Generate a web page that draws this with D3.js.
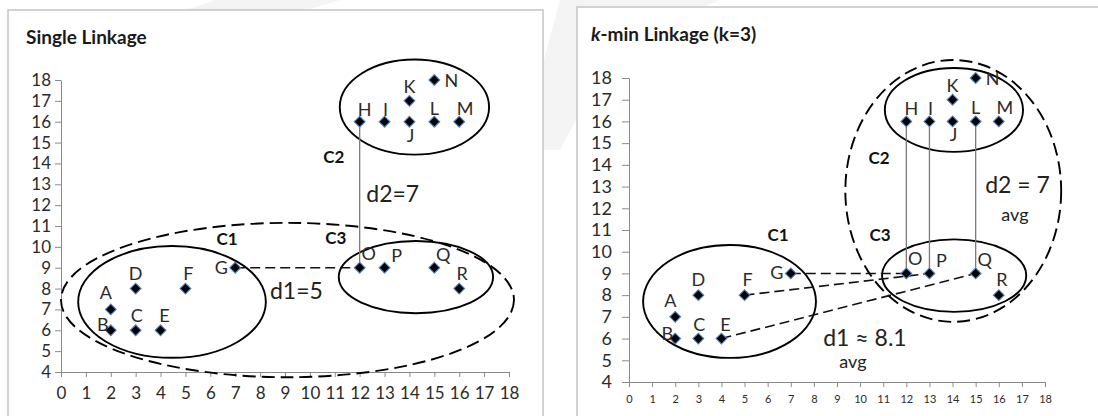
<!DOCTYPE html>
<html>
<head>
<meta charset="utf-8">
<script src="https://cdn.jsdelivr.net/npm/d3@7"></script>
<style>
  body { margin: 0; background: #fff; }
  text { font-family: Lato, "Open Sans", sans-serif; }
</style>
</head>
<body>
<div id="chart"></div>
<script>
// points (same in both panels)
var letters = ["A","B","C","D","E","F","G","H","I","J","K","L","M","N","O","P","Q","R"];
var xs = [2, 2, 3, 3, 4, 5, 7, 12, 13, 14, 14, 15, 16, 15, 12, 13, 15, 16];
var ys = [7, 6, 6, 8, 6, 8, 9, 16, 16, 16, 17, 16, 16, 18, 9, 9, 9, 8];

// axis ticks
var xTicks = [0,1,2,3,4,5,6,7,8,9,10,11,12,13,14,15,16,17,18];
var yTicks = [4,5,6,7,8,9,10,11,12,13,14,15,16,17,18];

// cluster ellipses, in data units
var leftEllipses = [
  { cx: 4.46, cy: 7.36, rx: 3.77, ry: 2.68, kind: "solid" },
  { cx: 14.2, cy: 16.7, rx: 3.0, ry: 2.28, kind: "solid" },
  { cx: 14.26, cy: 8.55, rx: 3.1, ry: 1.73, kind: "solid" },
  { cx: 9.1, cy: 7.45, rx: 9.1, ry: 3.7, kind: "dashed" }
];
var rightEllipses = [
  { cx: 4.35, cy: 7.71, rx: 3.74, ry: 2.6, kind: "solid" },
  { cx: 14.06, cy: 16.53, rx: 2.99, ry: 1.93, kind: "solid" },
  { cx: 14.07, cy: 8.9, rx: 3.12, ry: 1.67, kind: "solid" },
  { cx: 14.03, cy: 12.8, rx: 4.67, ry: 6.03, kind: "dashed" }
];

// links between points
var leftLinks = [["H", "O", "solid"], ["G", "O", "dashed"]];
var rightLinks = [["H", "O", "solid"], ["I", "P", "solid"], ["L", "Q", "solid"],
                  ["G", "O", "dashed"], ["F", "P", "dashed"], ["E", "Q", "dashed"]];

// annotation texts, in data units
var leftNotes = [
  { text: "C1", x: 6.67, y: 10.42, kind: "bold" },
  { text: "C2", x: 10.96, y: 14.31, kind: "bold" },
  { text: "C3", x: 11.04, y: 10.47, kind: "bold" },
  { text: "d2=7", x: 13.33, y: 12.58, kind: "big" },
  { text: "d1=5", x: 9.46, y: 7.93, kind: "big" }
];
var rightNotes = [
  { text: "C1", x: 6.45, y: 10.77, kind: "bold" },
  { text: "C2", x: 10.82, y: 14.36, kind: "bold" },
  { text: "C3", x: 10.86, y: 10.77, kind: "bold" },
  { text: "d2 = 7", x: 16.81, y: 13.1, kind: "big" },
  { text: "avg", x: 16.7, y: 11.75, kind: "sub" },
  { text: "d1 \u2248 8.1", x: 10.21, y: 6.08, kind: "big" },
  { text: "avg", x: 9.69, y: 4.98, kind: "sub" }
];

// label nudges in px (dx, dy) for each letter
var labelNudge = {
  A: [-5, -17], B: [-8, -6], C: [1, -15], D: [0, -16], E: [4, -15], F: [3, -16],
  G: [-14, -1], H: [5, -13], I: [1, -13], J: [1, 13], K: [0, -15], L: [0, -14],
  M: [6, -14], N: [17, 0], O: [9, -15], P: [12, -13], Q: [9, -14], R: [3, -16]
};

var svg = d3.select("#chart").append("svg")
    .attr("width", 1098)
    .attr("height", 416);

svg.append("rect").attr("width", 1098).attr("height", 416).attr("fill", "#fff");

// faint watermark bands
var bands = [
  [[215, 0], [340, 0], [300, 12], [180, 12]],
  [[560, 0], [640, 0], [560, 150], [520, 150]],
  [[640, 0], [720, 0], [700, 8], [620, 8]]
];
svg.selectAll(".band")
    .data(bands)
    .enter()
    .append("polygon")
    .attr("points", function (d) { return d.join(" "); })
    .attr("fill", "#f4f4f4");

var points = letters.map(function (l, i) { return { name: l, x: xs[i], y: ys[i] }; });
function pt(name) { return points[letters.indexOf(name)]; }

function drawPanel(cfg, ellipses, links, notes) {
    // panel frame
    svg.append("rect")
        .attr("x", cfg.frame[0]).attr("y", cfg.frame[1])
        .attr("width", cfg.frame[2]).attr("height", cfg.frame[3])
        .attr("fill", "#fff")
        .attr("stroke", "#c4c4c4")
        .attr("stroke-width", 1.5);

    var g = svg.append("g");

    var x = d3.scaleLinear().domain([0, 18]).range([cfg.x0, cfg.x1]);
    var y = d3.scaleLinear().domain([4, 18]).range([cfg.y0, cfg.y1]);

    // title
    var title = g.append("text")
        .attr("x", cfg.titleX)
        .attr("y", cfg.titleY)
        .style("font-size", "19px")
        .style("font-weight", "bold")
        .attr("fill", "#1a1a1a");
    cfg.title.forEach(function (t) {
        title.append("tspan").style("font-style", t.italic ? "italic" : "normal").text(t.text);
    });

    // axes
    var yAxis = g.append("g")
        .attr("transform", "translate(" + cfg.x0 + ",0)")
        .call(d3.axisLeft(y).tickValues(yTicks).tickSize(cfg.yTick).tickSizeOuter(0).tickPadding(cfg.yPad));
    var xAxis = g.append("g")
        .attr("transform", "translate(0," + cfg.y0 + ")")
        .call(d3.axisBottom(x).tickValues(xTicks).tickSize(5).tickSizeOuter(0).tickPadding(cfg.xPad));

    [xAxis, yAxis].forEach(function (a) {
        a.selectAll("path, line").attr("stroke", "#8a8a8a");
        a.selectAll("text").attr("fill", "#2b2b2b").style("font-family", "Lato, sans-serif");
    });
    yAxis.selectAll("text").style("font-size", cfg.yFont + "px");
    xAxis.selectAll("text").style("font-size", cfg.xFont + "px");

    // ellipses
    g.selectAll(".ell")
        .data(ellipses)
        .enter()
        .append("ellipse")
        .attr("cx", function (d) { return x(d.cx); })
        .attr("cy", function (d) { return y(d.cy); })
        .attr("rx", function (d) { return x(d.rx) - x(0); })
        .attr("ry", function (d) { return y(4) - y(4 + d.ry); })
        .attr("fill", "none")
        .attr("stroke", "#000")
        .attr("stroke-width", 1.9)
        .attr("stroke-dasharray", function (d) { return d.kind === "dashed" ? "13,6" : null; });

    // links
    g.selectAll(".link")
        .data(links)
        .enter()
        .append("line")
        .attr("x1", function (d) { return x(pt(d[0]).x); })
        .attr("y1", function (d) { return y(pt(d[0]).y); })
        .attr("x2", function (d) { return x(pt(d[1]).x); })
        .attr("y2", function (d) { return y(pt(d[1]).y); })
        .attr("stroke", function (d) { return d[2] === "dashed" ? "#111" : "#7a7a7a"; })
        .attr("stroke-width", function (d) { return d[2] === "dashed" ? 1.6 : 1.3; })
        .attr("stroke-dasharray", function (d) { return d[2] === "dashed" ? "10,5" : null; });

    // markers
    g.selectAll(".pt")
        .data(points)
        .enter()
        .append("path")
        .attr("d", d3.symbol().type(d3.symbolSquare).size(58))
        .attr("transform", function (d) { return "translate(" + x(d.x) + "," + y(d.y) + ") rotate(45)"; })
        .attr("fill", "#000")
        .attr("stroke", "#4f81bd")
        .attr("stroke-width", 1.1);

    // point letters
    g.selectAll(".lbl")
        .data(points)
        .enter()
        .append("text")
        .attr("x", function (d) { return x(d.x) + labelNudge[d.name][0]; })
        .attr("y", function (d) { return y(d.y) + labelNudge[d.name][1]; })
        .attr("text-anchor", "middle")
        .attr("dominant-baseline", "central")
        .style("font-size", "18px")
        .attr("fill", "#2b2b2b")
        .text(function (d) { return d.name; });

    // notes
    g.selectAll(".note")
        .data(notes)
        .enter()
        .append("text")
        .attr("x", function (d) { return x(d.x); })
        .attr("y", function (d) { return y(d.y); })
        .attr("text-anchor", "middle")
        .attr("dominant-baseline", "central")
        .style("font-size", function (d) { return d.kind === "bold" ? "17px" : d.kind === "big" ? "23px" : "18px"; })
        .style("font-weight", function (d) { return d.kind === "bold" ? "bold" : "normal"; })
        .attr("fill", function (d) { return d.kind === "bold" ? "#111" : "#222"; })
        .text(function (d) { return d.text; });
}

drawPanel({
    frame: [8, 10, 535, 420],
    x0: 61, x1: 509, y0: 372, y1: 80,
    titleX: 26, titleY: 44,
    title: [{ text: "Single Linkage" }],
    yTick: 6, yPad: 4, yFont: 17,
    xPad: 10, xFont: 17
}, leftEllipses, leftLinks, leftNotes);

drawPanel({
    frame: [577, 7, 540, 420],
    x0: 629, x1: 1045, y0: 382, y1: 78,
    titleX: 591, titleY: 41,
    title: [{ text: "k", italic: true }, { text: "-min Linkage (k=3)" }],
    yTick: 7, yPad: 10, yFont: 18,
    xPad: 8, xFont: 11
}, rightEllipses, rightLinks, rightNotes);
</script>
</body>
</html>
